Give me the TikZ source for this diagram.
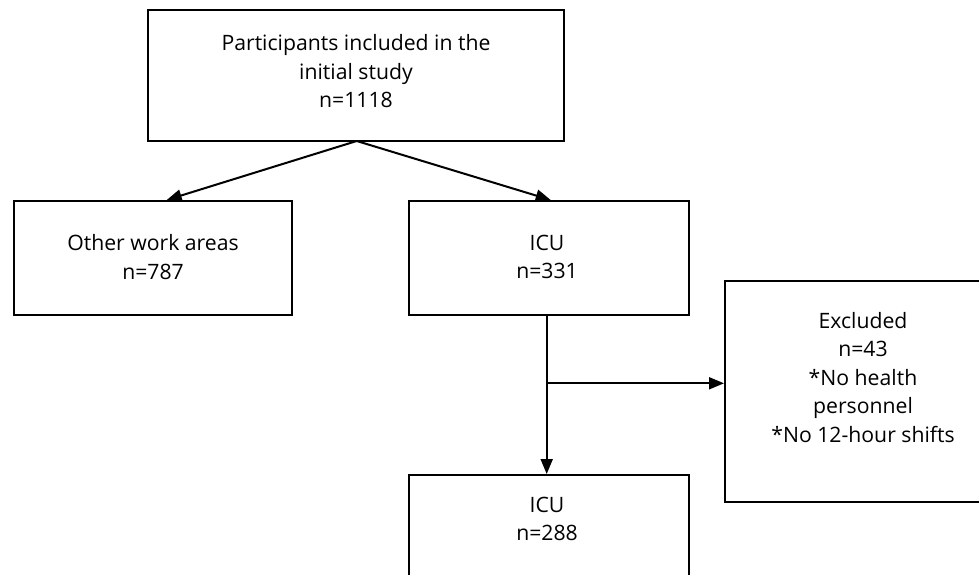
\documentclass[tikz,border=0pt]{standalone}
\usepackage{fontspec}
\setmainfont{Open Sans}
\usetikzlibrary{arrows.meta}
\tikzset{
  box/.style={draw, line width=2pt, inner sep=0pt, fill=none},
  txt/.style={align=center, font=\fontsize{21.2}{28.5}\selectfont, inner sep=0pt},
  conn/.style={line width=2pt, -{Triangle[length=15pt,width=12pt]}}
}
\begin{document}
\begin{tikzpicture}[x=1pt,y=-1pt]
\useasboundingbox (0,0) rectangle (979,575);
\clip (0,0) rectangle (979,575);
\fill[white] (0,0) rectangle (979,575);
% boxes
\node[box, minimum width=416.5pt, minimum height=131pt] (top) at (356,75.5) {};
\node[box, minimum width=278pt, minimum height=114pt] (other) at (153,258) {};
\node[box, minimum width=279.5pt, minimum height=114pt] (icu) at (549,258) {};
\node[box, minimum width=276pt, minimum height=221pt] (excl) at (863,391.5) {};
\node[box, minimum width=279.5pt, minimum height=114pt] (icu2) at (549,532) {};
% texts
\node[txt] (ttop) at (356,71.5) {Participants included in the\\initial study\\n=1118};
\node[txt] (tother) at (153,257) {Other work areas\\n=787};
\node[txt] (ticu) at (547,257) {ICU\\n=331};
\node[txt] (ticu2) at (547,519) {ICU\\n=288};
\node[txt] (texcl) at (863,377.4) {Excluded\\n=43\\*No health\\personnel\\*No 12-hour shifts};
% connectors
\coordinate (apex) at (356.7,141);
\draw[conn] (apex) -- ([xshift=13.7pt]other.north);
\draw[conn] (apex) -- ([xshift=1.7pt]icu.north);
\coordinate (vtop) at (546.7,315);
\coordinate (br) at (546.7,383.3);
\draw[conn] (vtop) -- (vtop |- icu2.north);
\draw[conn] (br) -- (br -| excl.west);
\end{tikzpicture}
\end{document}
